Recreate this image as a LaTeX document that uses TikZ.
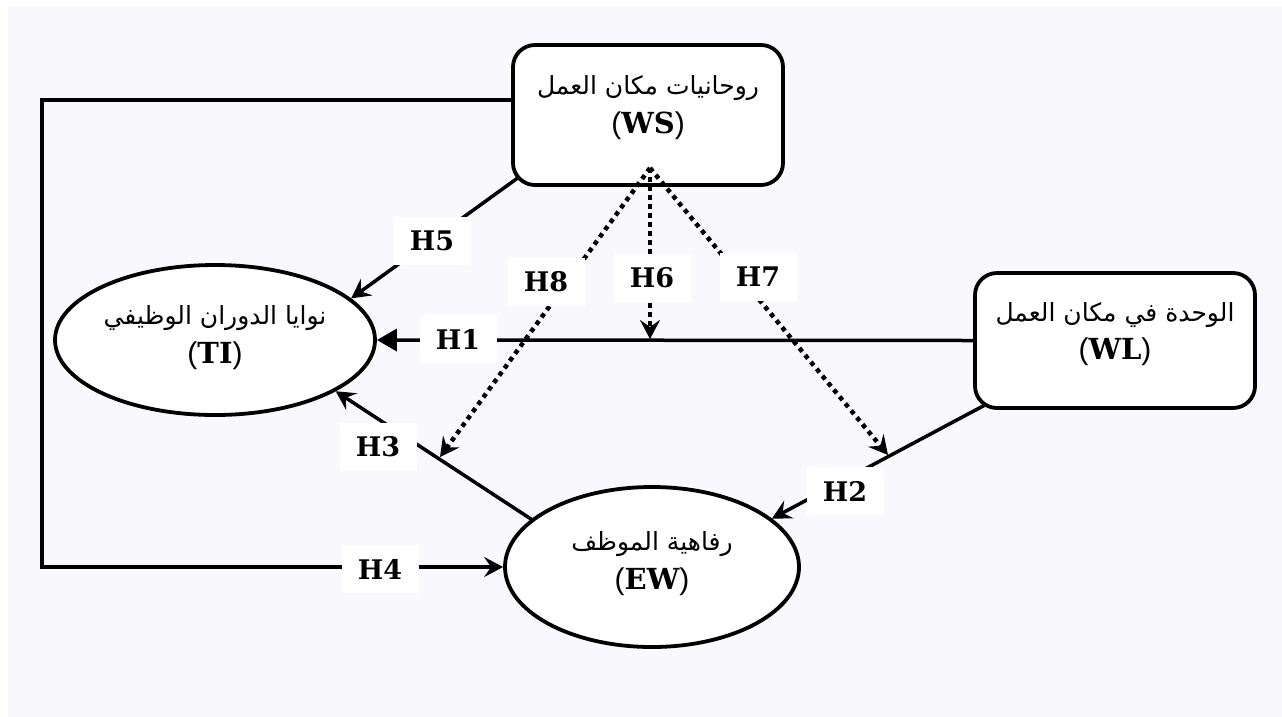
\documentclass[tikz,border=0pt]{standalone}
\usepackage{fontspec}
\setmainfont{Liberation Sans}
\newfontfamily\arabicfont[Script=Arabic]{DejaVu Sans}
\newfontfamily\hfont{DejaVu Serif}
\TeXXeTstate=1
\usetikzlibrary{arrows.meta,shapes.geometric,calc}
\pgfdeclarelayer{edges}
\pgfsetlayers{edges,main}
\definecolor{lav}{RGB}{248,248,253}
\newcommand{\ar}[1]{{\arabicfont\beginR #1\endR}}
\newcommand{\ab}[1]{{\fontsize{30}{30}\selectfont(}{\hfont\bfseries\fontsize{29}{29}\selectfont #1}{\fontsize{30}{30}\selectfont)}}
\newcommand{\twolines}[3]{\begin{tabular}{@{}c@{}}#2\\[8pt]#3\rule[-#1]{0pt}{1pt}\end{tabular}}
\begin{document}
\begin{tikzpicture}[x=1pt,y=-1pt,
  box/.style={draw,line width=3.8pt,rounded corners=22pt,fill=white,inner sep=0pt,
    font=\fontsize{25}{29}\selectfont},
  ell/.style={draw,ellipse,line width=3.8pt,fill=white,inner sep=0pt,
    font=\fontsize{25}{29}\selectfont},
  hyp/.style={fill=white,minimum width=77pt,minimum height=48pt,inner sep=0pt,
    font=\hfont\bfseries\fontsize{27}{27}\selectfont},
  conn/.style={line width=3.5pt},
  arr/.style={conn,-{Stealth[length=19pt,width=20pt,inset=7pt]}},
  tri/.style={conn,-{Triangle[length=20pt,width=22pt]}},
  dotl/.style={line width=4.5pt,dash pattern=on 4.5pt off 4.5pt,
    -{Stealth[length=19pt,width=20pt,inset=7pt]}}]
\useasboundingbox (0,0) rectangle (1282,716);
\begin{pgfonlayer}{edges}
  \fill[white] (-5,-5) rectangle (1290,725);
  \fill[lav] (8,6) rectangle (1290,725);
\end{pgfonlayer}
% main nodes
\node[box,minimum width=270pt,minimum height=140pt] (WS) at (648,115)
  {\twolines{22pt}{\ar{روحانيات مكان العمل}}{\ab{WS}}};
\node[box,minimum width=280pt,minimum height=135pt] (WL) at (1115,340.5)
  {\twolines{20pt}{\ar{الوحدة في مكان العمل}}{\ab{WL}}};
\node[ell,minimum width=320pt,minimum height=150pt] (TI) at (215,340)
  {\twolines{12pt}{\ar{نوايا الدوران الوظيفي}}{\ab{TI}}};
\node[ell,minimum width=294pt,minimum height=160pt] (EW) at (652,567)
  {\twolines{14pt}{\ar{رفاهية الموظف}}{\ab{EW}}};
% helper coordinates
\coordinate (c0) at (560,100);
\coordinate (c1) at (42,100);
\coordinate (c2) at (42,567);
\coordinate (s5) at (573,138);
\coordinate (s3) at (560,538);
\coordinate (s2) at (1030,381);
\coordinate (d0) at (650,168);
\coordinate (t6) at (650,339);
\coordinate (t8) at (440,457);
\coordinate (t7) at (888,455);
% solid connectors
\begin{pgfonlayer}{edges}
  \draw[arr] (c0) -- (c1) -- (c2) -- (EW.west);
  \draw[arr] (s5) -- (TI.17);
  \draw[tri] (WL.west) -- (TI.east);
  \draw[arr] (s3) -- (TI.-23);
  \draw[arr] (s2) -- (EW.22);
\end{pgfonlayer}
% dotted moderation connectors
\draw[dotl] (d0) -- (t6);
\draw[dotl] (d0) -- (t8);
\draw[dotl] (d0) -- (t7);
% hypothesis labels
\node[hyp] (H5) at (432,241) {H5};
\node[hyp] (H8) at (546,282) {H8};
\node[hyp] (H6) at (652,278) {H6};
\node[hyp] (H7) at (758,277) {H7};
\node[hyp] (H1) at (458,339) {H1};
\node[hyp] (H3) at (378,447) {H3};
\node[hyp] (H2) at (845,491) {H2};
\node[hyp] (H4) at (380,569) {H4};
\end{tikzpicture}
\end{document}
